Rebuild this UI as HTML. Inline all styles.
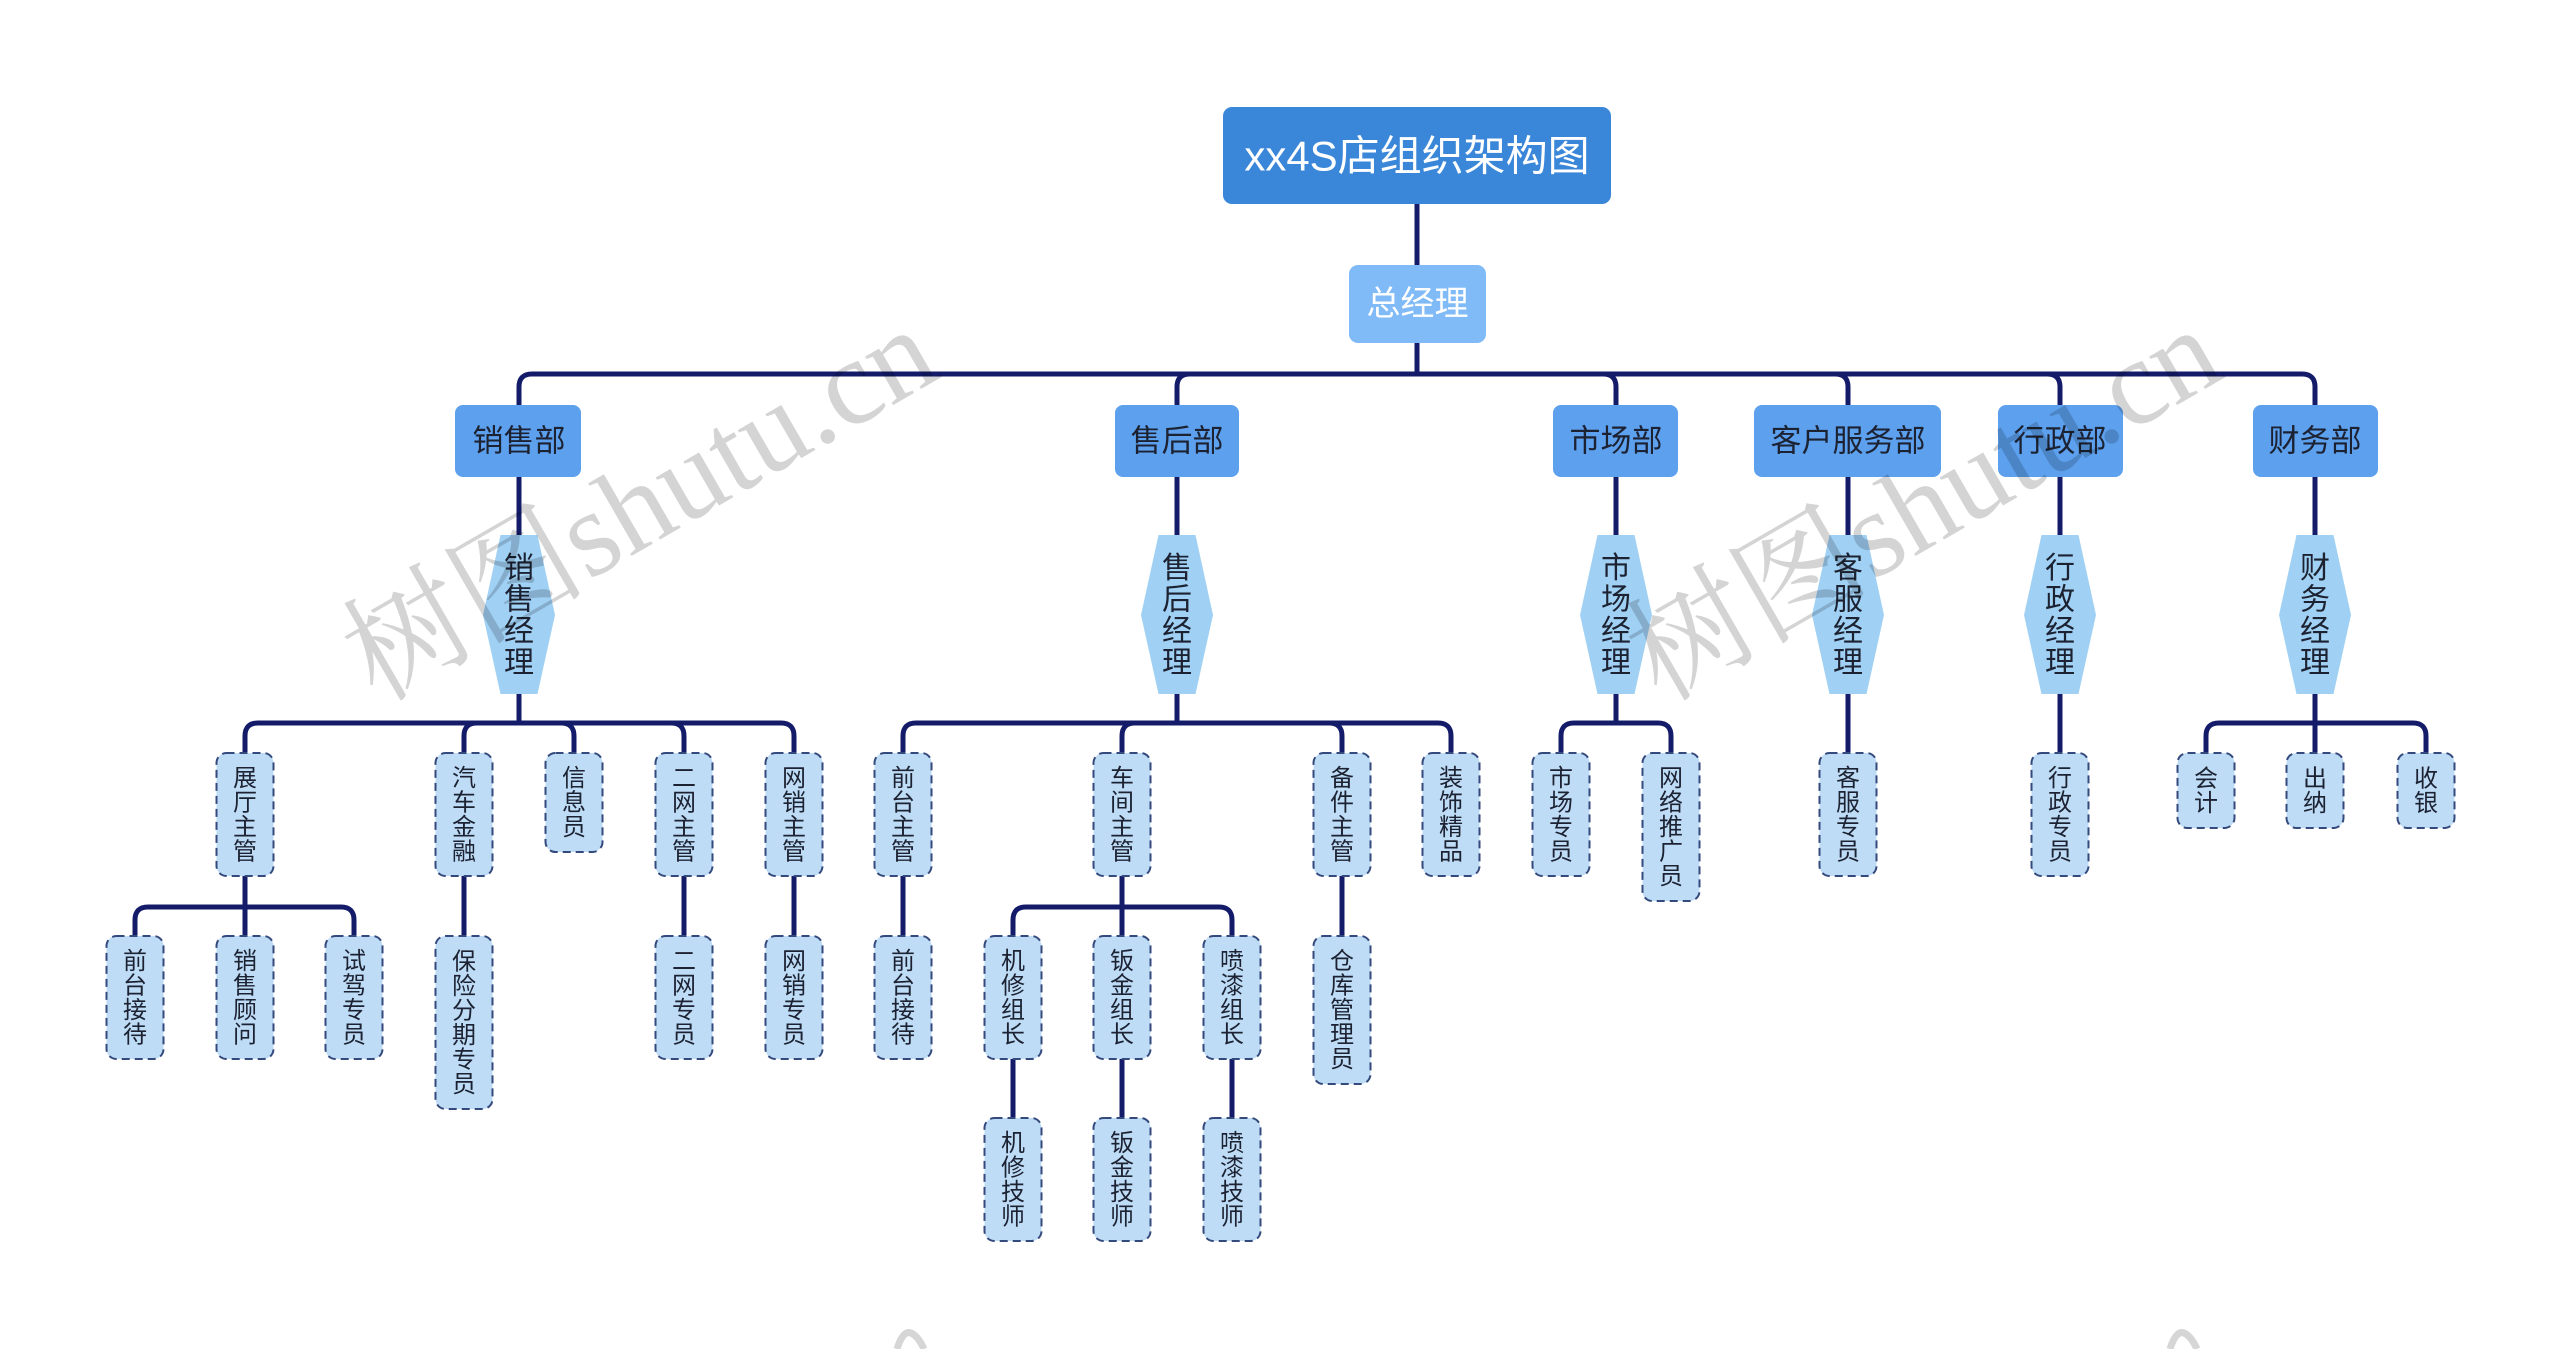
<!DOCTYPE html>
<html><head><meta charset="utf-8"><style>
html,body{margin:0;padding:0;background:#fff;}
svg{display:block;}
.c{fill:none;stroke:#141c6a;stroke-width:5;}
.lf{fill:#bedcf6;stroke:#34497c;stroke-width:2;stroke-dasharray:8 5;}
.hx{fill:#a0d1f4;}
.dp{fill:#5ca0ee;}
.t{font-family:"Liberation Sans","Noto Sans CJK SC",sans-serif;fill:#1c2232;text-anchor:middle;dominant-baseline:central;}
.lt{font-size:24px;}
.ht{font-size:30px;}
.dt{font-size:31px;}
</style></head><body>
<svg width="2560" height="1349" viewBox="0 0 2560 1349" xmlns="http://www.w3.org/2000/svg">
<rect width="2560" height="1349" fill="#fff"/>
<!-- connectors -->
<path class="c" d="M1417 204V265M1417 343V374"/>
<path class="c" d="M519 405V387Q519 374 532 374H2302Q2315 374 2315 387V405"/>
<path class="c" d="M1177 405V387Q1177 374 1190 374M1616 405V387Q1616 374 1603 374M1848 405V387Q1848 374 1835 374M2060 405V387Q2060 374 2047 374"/>
<path class="c" d="M519 477V535M1177 477V535M1616 477V535M1848 477V535M2060 477V535M2315 477V535"/>
<!-- sales -->
<path class="c" d="M519 694V723M245 753V736Q245 723 258 723H781Q794 723 794 736V753M464 753V736Q464 723 477 723M574 753V736Q574 723 561 723M684 753V736Q684 723 671 723"/>
<path class="c" d="M245 876V936M135 936V920Q135 907 148 907H341Q354 907 354 920V936M464 876V936M684 876V936M794 876V936"/>
<!-- after-sales -->
<path class="c" d="M1177 694V723M903 753V736Q903 723 916 723H1438Q1451 723 1451 736V753M1122 753V736Q1122 723 1135 723M1342 753V736Q1342 723 1329 723"/>
<path class="c" d="M903 876V936M1122 876V936M1013 936V920Q1013 907 1026 907H1219Q1232 907 1232 920V936M1342 876V936"/>
<path class="c" d="M1013 1059V1118M1122 1059V1118M1232 1059V1118"/>
<!-- market etc -->
<path class="c" d="M1616 694V723M1561 753V736Q1561 723 1574 723H1658Q1671 723 1671 736V753"/>
<path class="c" d="M1848 694V753M2060 694V753M2315 694V753M2206 753V736Q2206 723 2219 723H2413Q2426 723 2426 736V753"/>

<!-- root -->
<rect x="1223" y="107" width="388" height="97" rx="9" fill="#3a87d9"/>
<text x="1417" y="156" class="t" style="font-size:42px;fill:#fff">xx4S店组织架构图</text>
<rect x="1349" y="265" width="137" height="78" rx="9" fill="#80bbf7"/>
<text x="1417.5" y="304" class="t" style="font-size:34px;fill:#fff">总经理</text>

<!-- departments -->
<rect class="dp" x="455" y="405" width="126" height="72" rx="8"/>
<text class="t dt" x="519" y="441">销售部</text>
<rect class="dp" x="1115" y="405" width="124" height="72" rx="8"/>
<text class="t dt" x="1177" y="441">售后部</text>
<rect class="dp" x="1553" y="405" width="125" height="72" rx="8"/>
<text class="t dt" x="1616" y="441">市场部</text>
<rect class="dp" x="1754" y="405" width="187" height="72" rx="8"/>
<text class="t dt" x="1848" y="441">客户服务部</text>
<rect class="dp" x="1998" y="405" width="125" height="72" rx="8"/>
<text class="t dt" x="2060" y="441">行政部</text>
<rect class="dp" x="2253" y="405" width="125" height="72" rx="8"/>
<text class="t dt" x="2315" y="441">财务部</text>

<!-- hexagons -->
<polygon class="hx" points="500.5,535 537.5,535 555,615 537.5,694 500.5,694 483,615"/>
<text class="t ht"><tspan x="519" y="567.75">销</tspan><tspan x="519" y="599.25">售</tspan><tspan x="519" y="630.75">经</tspan><tspan x="519" y="662.25">理</tspan></text>
<polygon class="hx" points="1158.5,535 1195.5,535 1213,615 1195.5,694 1158.5,694 1141,615"/>
<text class="t ht"><tspan x="1177" y="567.75">售</tspan><tspan x="1177" y="599.25">后</tspan><tspan x="1177" y="630.75">经</tspan><tspan x="1177" y="662.25">理</tspan></text>
<polygon class="hx" points="1597.5,535 1634.5,535 1652,615 1634.5,694 1597.5,694 1580,615"/>
<text class="t ht"><tspan x="1616" y="567.75">市</tspan><tspan x="1616" y="599.25">场</tspan><tspan x="1616" y="630.75">经</tspan><tspan x="1616" y="662.25">理</tspan></text>
<polygon class="hx" points="1829.5,535 1866.5,535 1884,615 1866.5,694 1829.5,694 1812,615"/>
<text class="t ht"><tspan x="1848" y="567.75">客</tspan><tspan x="1848" y="599.25">服</tspan><tspan x="1848" y="630.75">经</tspan><tspan x="1848" y="662.25">理</tspan></text>
<polygon class="hx" points="2041.5,535 2078.5,535 2096,615 2078.5,694 2041.5,694 2024,615"/>
<text class="t ht"><tspan x="2060" y="567.75">行</tspan><tspan x="2060" y="599.25">政</tspan><tspan x="2060" y="630.75">经</tspan><tspan x="2060" y="662.25">理</tspan></text>
<polygon class="hx" points="2296.5,535 2333.5,535 2351,615 2333.5,694 2296.5,694 2279,615"/>
<text class="t ht"><tspan x="2315" y="567.75">财</tspan><tspan x="2315" y="599.25">务</tspan><tspan x="2315" y="630.75">经</tspan><tspan x="2315" y="662.25">理</tspan></text>

<!-- sales leaves row1 -->
<rect class="lf" x="216.5" y="753" width="57" height="123" rx="10"/>
<text class="t lt"><tspan x="245" y="777.75">展</tspan><tspan x="245" y="802.25">厅</tspan><tspan x="245" y="826.75">主</tspan><tspan x="245" y="851.25">管</tspan></text>
<rect class="lf" x="435.5" y="753" width="57" height="123" rx="10"/>
<text class="t lt"><tspan x="464" y="777.75">汽</tspan><tspan x="464" y="802.25">车</tspan><tspan x="464" y="826.75">金</tspan><tspan x="464" y="851.25">融</tspan></text>
<rect class="lf" x="545.5" y="753" width="57" height="99" rx="10"/>
<text class="t lt"><tspan x="574" y="778">信</tspan><tspan x="574" y="802.5">息</tspan><tspan x="574" y="827">员</tspan></text>
<rect class="lf" x="655.5" y="753" width="57" height="123" rx="10"/>
<text class="t lt"><tspan x="684" y="777.75">二</tspan><tspan x="684" y="802.25">网</tspan><tspan x="684" y="826.75">主</tspan><tspan x="684" y="851.25">管</tspan></text>
<rect class="lf" x="765.5" y="753" width="57" height="123" rx="10"/>
<text class="t lt"><tspan x="794" y="777.75">网</tspan><tspan x="794" y="802.25">销</tspan><tspan x="794" y="826.75">主</tspan><tspan x="794" y="851.25">管</tspan></text>
<!-- sales leaves row2 -->
<rect class="lf" x="106.5" y="936" width="57" height="123" rx="10"/>
<text class="t lt"><tspan x="135" y="960.75">前</tspan><tspan x="135" y="985.25">台</tspan><tspan x="135" y="1009.75">接</tspan><tspan x="135" y="1034.25">待</tspan></text>
<rect class="lf" x="216.5" y="936" width="57" height="123" rx="10"/>
<text class="t lt"><tspan x="245" y="960.75">销</tspan><tspan x="245" y="985.25">售</tspan><tspan x="245" y="1009.75">顾</tspan><tspan x="245" y="1034.25">问</tspan></text>
<rect class="lf" x="325.5" y="936" width="57" height="123" rx="10"/>
<text class="t lt"><tspan x="354" y="960.75">试</tspan><tspan x="354" y="985.25">驾</tspan><tspan x="354" y="1009.75">专</tspan><tspan x="354" y="1034.25">员</tspan></text>
<rect class="lf" x="435.5" y="936" width="57" height="173" rx="10"/>
<text class="t lt"><tspan x="464" y="961.25">保</tspan><tspan x="464" y="985.75">险</tspan><tspan x="464" y="1010.25">分</tspan><tspan x="464" y="1034.75">期</tspan><tspan x="464" y="1059.25">专</tspan><tspan x="464" y="1083.75">员</tspan></text>
<rect class="lf" x="655.5" y="936" width="57" height="123" rx="10"/>
<text class="t lt"><tspan x="684" y="960.75">二</tspan><tspan x="684" y="985.25">网</tspan><tspan x="684" y="1009.75">专</tspan><tspan x="684" y="1034.25">员</tspan></text>
<rect class="lf" x="765.5" y="936" width="57" height="123" rx="10"/>
<text class="t lt"><tspan x="794" y="960.75">网</tspan><tspan x="794" y="985.25">销</tspan><tspan x="794" y="1009.75">专</tspan><tspan x="794" y="1034.25">员</tspan></text>

<!-- after-sales row1 -->
<rect class="lf" x="874.5" y="753" width="57" height="123" rx="10"/>
<text class="t lt"><tspan x="903" y="777.75">前</tspan><tspan x="903" y="802.25">台</tspan><tspan x="903" y="826.75">主</tspan><tspan x="903" y="851.25">管</tspan></text>
<rect class="lf" x="1093.5" y="753" width="57" height="123" rx="10"/>
<text class="t lt"><tspan x="1122" y="777.75">车</tspan><tspan x="1122" y="802.25">间</tspan><tspan x="1122" y="826.75">主</tspan><tspan x="1122" y="851.25">管</tspan></text>
<rect class="lf" x="1313.5" y="753" width="57" height="123" rx="10"/>
<text class="t lt"><tspan x="1342" y="777.75">备</tspan><tspan x="1342" y="802.25">件</tspan><tspan x="1342" y="826.75">主</tspan><tspan x="1342" y="851.25">管</tspan></text>
<rect class="lf" x="1422.5" y="753" width="57" height="123" rx="10"/>
<text class="t lt"><tspan x="1451" y="777.75">装</tspan><tspan x="1451" y="802.25">饰</tspan><tspan x="1451" y="826.75">精</tspan><tspan x="1451" y="851.25">品</tspan></text>
<!-- after-sales row2 -->
<rect class="lf" x="874.5" y="936" width="57" height="123" rx="10"/>
<text class="t lt"><tspan x="903" y="960.75">前</tspan><tspan x="903" y="985.25">台</tspan><tspan x="903" y="1009.75">接</tspan><tspan x="903" y="1034.25">待</tspan></text>
<rect class="lf" x="984.5" y="936" width="57" height="123" rx="10"/>
<text class="t lt"><tspan x="1013" y="960.75">机</tspan><tspan x="1013" y="985.25">修</tspan><tspan x="1013" y="1009.75">组</tspan><tspan x="1013" y="1034.25">长</tspan></text>
<rect class="lf" x="1093.5" y="936" width="57" height="123" rx="10"/>
<text class="t lt"><tspan x="1122" y="960.75">钣</tspan><tspan x="1122" y="985.25">金</tspan><tspan x="1122" y="1009.75">组</tspan><tspan x="1122" y="1034.25">长</tspan></text>
<rect class="lf" x="1203.5" y="936" width="57" height="123" rx="10"/>
<text class="t lt"><tspan x="1232" y="960.75">喷</tspan><tspan x="1232" y="985.25">漆</tspan><tspan x="1232" y="1009.75">组</tspan><tspan x="1232" y="1034.25">长</tspan></text>
<rect class="lf" x="1313.5" y="936" width="57" height="148" rx="10"/>
<text class="t lt"><tspan x="1342" y="961">仓</tspan><tspan x="1342" y="985.5">库</tspan><tspan x="1342" y="1010">管</tspan><tspan x="1342" y="1034.5">理</tspan><tspan x="1342" y="1059">员</tspan></text>
<!-- after-sales row3 -->
<rect class="lf" x="984.5" y="1118" width="57" height="123" rx="10"/>
<text class="t lt"><tspan x="1013" y="1142.75">机</tspan><tspan x="1013" y="1167.25">修</tspan><tspan x="1013" y="1191.75">技</tspan><tspan x="1013" y="1216.25">师</tspan></text>
<rect class="lf" x="1093.5" y="1118" width="57" height="123" rx="10"/>
<text class="t lt"><tspan x="1122" y="1142.75">钣</tspan><tspan x="1122" y="1167.25">金</tspan><tspan x="1122" y="1191.75">技</tspan><tspan x="1122" y="1216.25">师</tspan></text>
<rect class="lf" x="1203.5" y="1118" width="57" height="123" rx="10"/>
<text class="t lt"><tspan x="1232" y="1142.75">喷</tspan><tspan x="1232" y="1167.25">漆</tspan><tspan x="1232" y="1191.75">技</tspan><tspan x="1232" y="1216.25">师</tspan></text>

<!-- market -->
<rect class="lf" x="1532.5" y="753" width="57" height="123" rx="10"/>
<text class="t lt"><tspan x="1561" y="777.75">市</tspan><tspan x="1561" y="802.25">场</tspan><tspan x="1561" y="826.75">专</tspan><tspan x="1561" y="851.25">员</tspan></text>
<rect class="lf" x="1642.5" y="753" width="57" height="148" rx="10"/>
<text class="t lt"><tspan x="1671" y="778">网</tspan><tspan x="1671" y="802.5">络</tspan><tspan x="1671" y="827">推</tspan><tspan x="1671" y="851.5">广</tspan><tspan x="1671" y="876">员</tspan></text>
<!-- customer service -->
<rect class="lf" x="1819.5" y="753" width="57" height="123" rx="10"/>
<text class="t lt"><tspan x="1848" y="777.75">客</tspan><tspan x="1848" y="802.25">服</tspan><tspan x="1848" y="826.75">专</tspan><tspan x="1848" y="851.25">员</tspan></text>
<!-- admin -->
<rect class="lf" x="2031.5" y="753" width="57" height="123" rx="10"/>
<text class="t lt"><tspan x="2060" y="777.75">行</tspan><tspan x="2060" y="802.25">政</tspan><tspan x="2060" y="826.75">专</tspan><tspan x="2060" y="851.25">员</tspan></text>
<!-- finance -->
<rect class="lf" x="2177.5" y="753" width="57" height="75" rx="10"/>
<text class="t lt"><tspan x="2206" y="778.25">会</tspan><tspan x="2206" y="802.75">计</tspan></text>
<rect class="lf" x="2286.5" y="753" width="57" height="75" rx="10"/>
<text class="t lt"><tspan x="2315" y="778.25">出</tspan><tspan x="2315" y="802.75">纳</tspan></text>
<rect class="lf" x="2397.5" y="753" width="57" height="75" rx="10"/>
<text class="t lt"><tspan x="2426" y="778.25">收</tspan><tspan x="2426" y="802.75">银</tspan></text>

<!-- watermarks -->
<g fill="#000" fill-opacity="0.17" font-size="122">
<text transform="translate(377,703) rotate(-30)"><tspan font-family="Noto Serif CJK SC, serif">树图</tspan><tspan font-family="Liberation Serif, serif">shutu.cn</tspan></text>
<text transform="translate(1661,703) rotate(-30)"><tspan font-family="Noto Serif CJK SC, serif">树图</tspan><tspan font-family="Liberation Serif, serif">shutu.cn</tspan></text>
</g>
<path d="M897 1349Q903 1330 911 1333Q918 1336 924 1349" fill="none" stroke="#d6d6d6" stroke-width="7"/>
<path d="M2170 1349Q2176 1330 2184 1333Q2191 1336 2197 1349" fill="none" stroke="#d6d6d6" stroke-width="7"/>
</svg>
</body></html>
